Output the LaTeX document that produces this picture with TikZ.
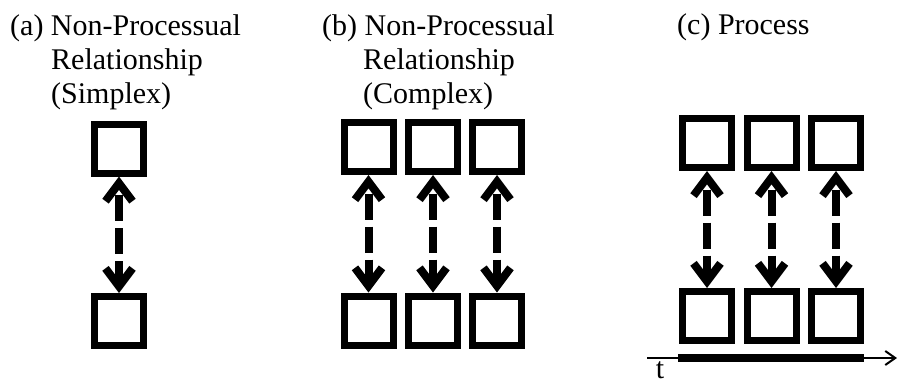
\documentclass[tikz,border=0pt]{standalone}
\usepackage{fontspec}
\setmainfont{Liberation Serif}
\usetikzlibrary{arrows.meta}
\begin{document}
\begin{tikzpicture}[x=1pt,y=-1pt,
  box/.style={draw,line width=7pt,inner sep=0pt,minimum size=49pt},
  rel/.style={line width=8pt,dash pattern=on 26pt off 7pt,dash phase=-8pt,
    {Straight Barb[length=18pt,width=27pt]}-{Straight Barb[length=18pt,width=27pt]}},
  lbl/.style={inner sep=0pt,font=\fontsize{30}{34}\selectfont}]
\useasboundingbox (0,0) rectangle (898,381);
% titles
\node[lbl,anchor=base west] (ta) at (10,35) {(a) Non-Processual};
\node[lbl,anchor=base west] (ta2) at (51,69) {Relationship};
\node[lbl,anchor=base west] (ta3) at (51,103) {(Simplex)};
\node[lbl,anchor=base west] (tb) at (322,35) {(b) Non-Processual};
\node[lbl,anchor=base west] (tb2) at (363,69) {Relationship};
\node[lbl,anchor=base west] (tb3) at (363,103) {(Complex)};
\node[lbl,anchor=base west] (tc) at (677,34) {(c) Process};
% (a)
\node[box] (a1) at (119,148.5) {};
\node[box] (a2) at (119,321) {};
\draw[rel] (a1) -- (a2);
% (b)
\foreach \i/\x in {1/368.5,2/433,3/497}{
  \node[box] (b\i) at (\x,147) {};
  \node[box] (bb\i) at (\x,320.5) {};
  \draw[rel] (b\i) -- (bb\i);
}
% (c)
\foreach \i/\x in {1/707,2/771.5,3/836}{
  \node[box] (c\i) at (\x,143) {};
  \node[box] (cc\i) at (\x,316) {};
  \draw[rel] (c\i) -- (cc\i);
}
% time axis
\coordinate (t0) at (647,358);
\coordinate (t1) at (897,358);
\coordinate (bar0) at (678,358);
\coordinate (bar1) at (864,358);
\draw[line width=2pt,-{Straight Barb[length=10pt,width=14pt]}] (t0) -- (t1);
\draw[line width=8pt] (bar0) -- (bar1);
\node[lbl,anchor=base] (t) at (660,378) {t};
\end{tikzpicture}
\end{document}
